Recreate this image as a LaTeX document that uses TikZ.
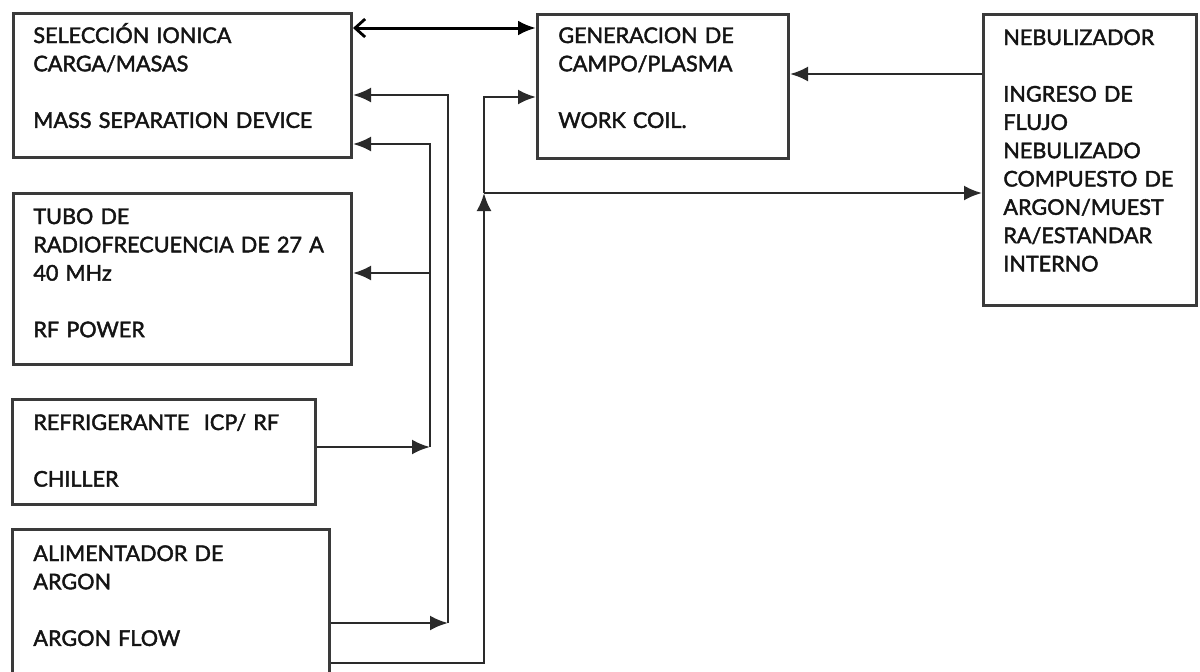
\documentclass[tikz,border=0pt]{standalone}
\usepackage{fontspec}
\newfontfamily\lblfont{Lato}[FakeBold=2]
\usetikzlibrary{arrows.meta}
\definecolor{boxc}{HTML}{3A3A3A}
\definecolor{ink}{HTML}{2A2A2A}
\definecolor{txt}{HTML}{141414}
\begin{document}
\begin{tikzpicture}[x=0.5pt,y=-0.5pt,
  box/.style={draw=boxc,line width=1.5pt,fill=white,inner sep=0pt,anchor=north west},
  lbl/.style={anchor=base west,inner sep=0pt,text width=#1,align=left,
    font=\lblfont\fontsize{10.8}{14.15}\selectfont,text=txt},
  lbl/.default=170pt,
  conn/.style={draw=ink,line width=1.25pt},
  arr/.style={conn,-{Latex[length=9pt,width=7.5pt]}},
  dbl/.style={draw=black,line width=1.5pt,
    {Straight Barb[length=5pt,width=9pt,line width=1.4pt]}-{Latex[length=9pt,width=7.5pt]}}
]
\useasboundingbox (0,0) rectangle (1200,671);
\clip (0,0) rectangle (1200,671);

% blocks
\node[box,minimum width=169pt,minimum height=72pt] (A) at (12,12) {};
\node[box,minimum width=125.5pt,minimum height=72pt] (G) at (536,13) {};
\node[box,minimum width=106.5pt,minimum height=145.5pt] (N) at (982,13) {};
\node[box,minimum width=169pt,minimum height=85.5pt] (T) at (12,192) {};
\node[box,minimum width=151.5pt,minimum height=52.5pt] (R) at (11,398) {};
\node[box,minimum width=158.5pt,minimum height=85pt] (F) at (11,528) {};

% block texts
\node[lbl] (tA) at (33,43) {SELECCIÓN IONICA\\CARGA/MASAS\\[14.15pt]MASS SEPARATION DEVICE};
\node[lbl=112pt] (tG) at (558,43) {GENERACION DE\\CAMPO/PLASMA\\[14.15pt]WORK COIL.};
\node[lbl=96pt] (tN) at (1003,45) {NEBULIZADOR\\[14.15pt]INGRESO DE\\FLUJO\\NEBULIZADO\\COMPUESTO DE\\ARGON/MUEST\\RA/ESTANDAR\\INTERNO};
\node[lbl] (tT) at (33,224) {TUBO DE\\RADIOFRECUENCIA DE 27 A\\40 MHz\\[14.15pt]RF POWER};
\node[lbl] (tR) at (33,430) {REFRIGERANTE\ \ ICP/ RF\\[14.15pt]CHILLER};
\node[lbl] (tF) at (33,561) {ALIMENTADOR DE\\ARGON\\[14.15pt]ARGON FLOW};

% junction points of the bus lines
\coordinate (cA) at (430,144);
\coordinate (cT) at (430,273);
\coordinate (cR) at (430,447);
\coordinate (dA) at (448,95);
\coordinate (dF) at (448,623);
\coordinate (eB) at (484,663);
\coordinate (eJ) at (484,193);
\coordinate (eG) at (484,97);

% connectors
\draw[dbl] (A.east |- 0,28) -- (G.west |- 0,28);
\draw[arr] (N.west |- 0,74) -- (G.east |- 0,74);

\draw[arr] (R.east |- cR) -- (cR);
\draw[arr] (cR) -- (cA) -- (A.east |- cA);
\draw[arr] (cT) -- (T.east |- cT);

\draw[arr] (F.east |- dF) -- (dF);
\draw[arr] (dF) -- (dA) -- (A.east |- dA);

\draw[arr] (F.east |- eB) -- (eB) -- (eJ);
\draw[arr] (eJ) -- (eG) -- (G.west |- eG);
\draw[arr] (eJ) -- (N.west |- eJ);
\end{tikzpicture}
\end{document}
